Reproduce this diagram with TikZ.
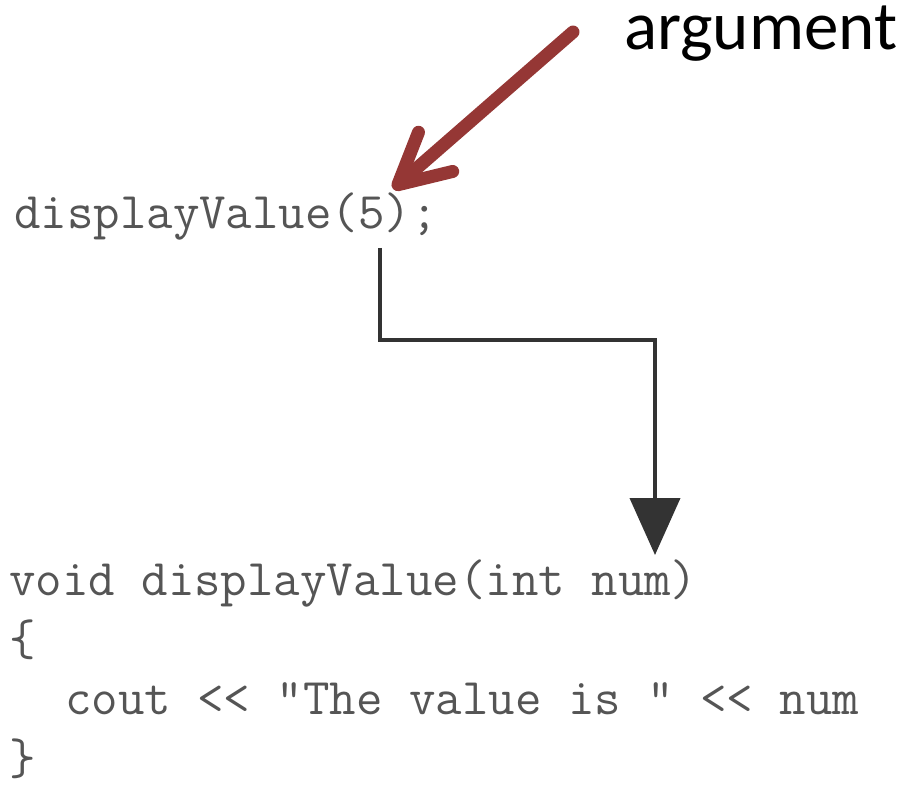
\documentclass[tikz,border=0pt]{standalone}
\usepackage{fontspec}
\newfontfamily\calib{Carlito}
\usetikzlibrary{arrows.meta}
\definecolor{codegray}{HTML}{555555}
\definecolor{darkred}{HTML}{953735}
\definecolor{lineg}{HTML}{333333}
\tikzset{
  code/.style={anchor=base west, inner sep=0pt, text=codegray, font=\ttfamily\fontsize{51.4}{60}\selectfont},
  label/.style={anchor=base west, inner sep=0pt, text height=44pt, font=\calib\fontsize{69}{80}\selectfont},
  conn/.style={draw=lineg, line width=4pt, -{Triangle[length=57pt,width=50pt]}},
  redarrow/.style={draw=darkred, line width=13pt, line cap=round,
    -{Straight Barb[length=50pt,width=52pt,line cap=round,line join=round]}}
}
\begin{document}
\begin{tikzpicture}[x=1pt,y=-1pt]
\useasboundingbox (0,0) rectangle (918,786);
\node[label] (arg) at (624,50) {argument};
\node[code] (call) at (14,229) {displayValue(5);};
\node[code] (head) at (9,595) {void displayValue(int num)};
\node[code] (ob) at (9,655) {\{};
\node[code] (body) at (12,714) {\ \ cout << "The value is " << num};
\node[code] (cb) at (9,774) {\}};
\coordinate (src) at (380,248);
\coordinate (dst) at (655,555);
\coordinate (argtail) at (573,32);
\coordinate (five) at (393,189);
\draw[conn] (src) -- (380,340) -| (dst);
\draw[redarrow] (argtail) -- (five);
\end{tikzpicture}
\end{document}
